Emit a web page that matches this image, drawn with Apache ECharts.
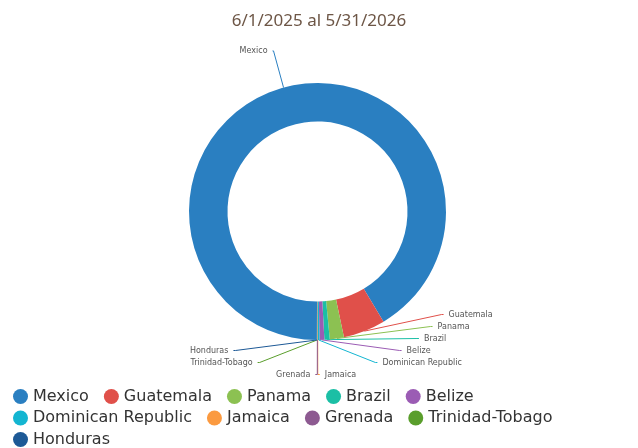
<!DOCTYPE html>
<html><head><meta charset="utf-8">
<script src="https://cdn.jsdelivr.net/npm/echarts@6/dist/echarts.min.js"></script>
<style>html,body{margin:0;padding:0;background:#fff}#c{width:638px;height:448px}</style>
</head><body><div id="c"></div>
<script>
const titleText = '6/1/2025 al 5/31/2026';
const countries = ['Mexico','Guatemala','Panama','Brazil','Belize','Dominican Republic','Jamaica','Grenada','Trinidad-Tobago','Honduras'];
const values = [9148, 530, 178, 67, 61, 19, 6, 3, 3, 2];
const colors = ['#2a7fc1','#e0504a','#8cc152','#1bbfa5','#9b5cb4','#13b5d1','#fb9a40','#8d5a91','#5a9e2c','#1d5996'];

const chart = echarts.init(document.getElementById('c'), null, {renderer:'canvas'});
const labelFont = 'DejaVu Sans';
chart.setOption({
  animation: false,
  color: colors,
  title: {
    text: titleText, left: 'center', top: 8,
    textStyle: {fontFamily: 'Noto Sans', fontSize: 17, fontWeight: 'normal', color: '#6d5646'}
  },
  legend: {
    left: 8, top: 383, width: 625,
    icon: 'circle', itemWidth: 15, itemHeight: 15, itemGap: 4.5,
    textStyle: {fontFamily: labelFont, fontSize: 16, lineHeight: 17, color: '#333', padding: [0, 10.5, 0, 0]},
    data: countries
  },
  series: [{
    type: 'pie',
    left: 0, top: 0, width: 638, height: 380.5,
    center: [317.5, 211.5],
    radius: [90, 128.5],
    startAngle: 269.7,
    clockwise: true,
    avoidLabelOverlap: true,
    label: {fontFamily: labelFont, fontSize: 8, lineHeight: 10, color: '#555'},
    labelLine: {length: 38, length2: 2, lineStyle: {width: 1}},
    emphasis: {disabled: true},
    data: countries.map((n, i) => i === 0
      ? {name: n, value: values[i], labelLine: {length: 38, length2: 1}}
      : {name: n, value: values[i]})
  }]
});
</script></body></html>
